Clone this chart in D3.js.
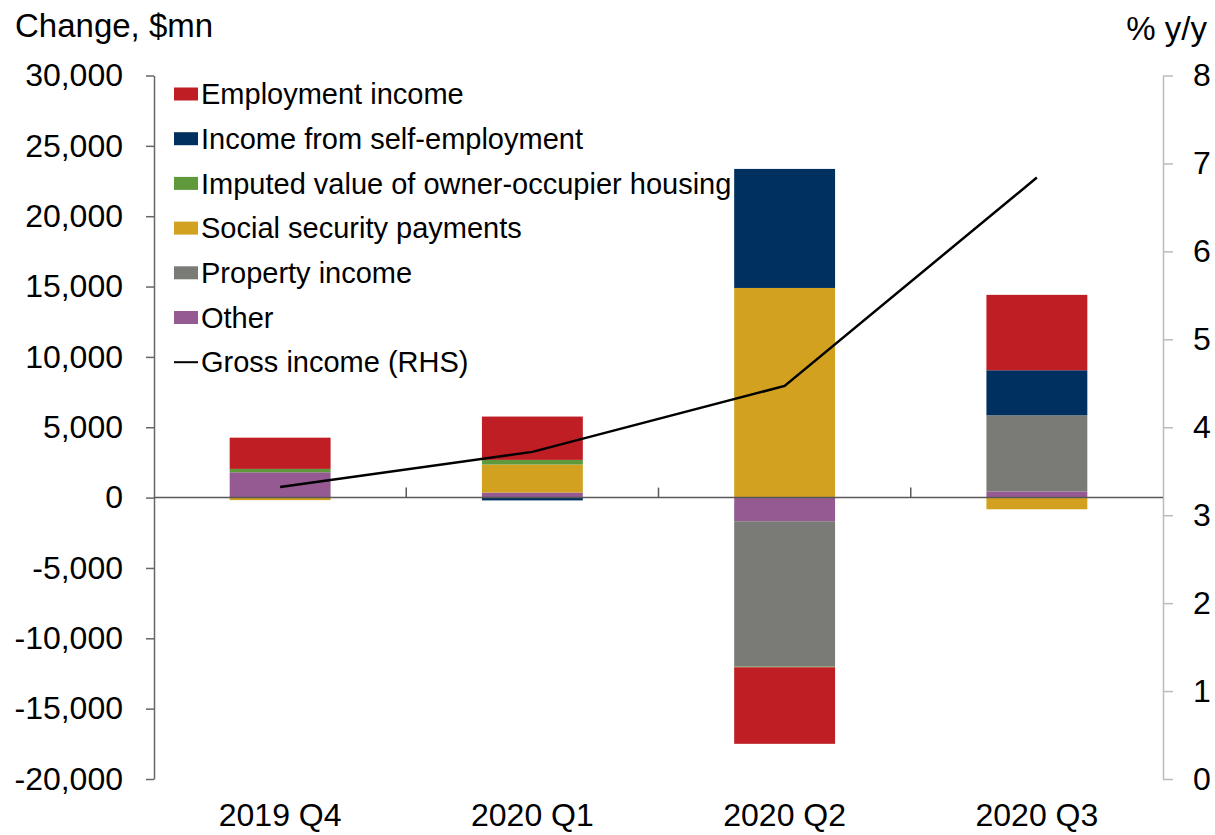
<!DOCTYPE html>
<html>
<head>
<meta charset="utf-8">
<script src="https://cdn.jsdelivr.net/npm/d3@7"></script>
<style>
  body { margin: 0; background: #fff; }
  svg text { font-family: "Liberation Sans", Arial, sans-serif; fill: #000; }
</style>
</head>
<body>
<div id="chart"></div>
<script>
// quarters on the x axis
const quarters = ['2019 Q4', '2020 Q1', '2020 Q2', '2020 Q3'];

// contributions to change in gross income, $mn
const employment = [2220, 3080, -5440, 5360];
const selfEmployment = [0, -200, 8460, 3200];
const imputedHousing = [240, 330, -50, 0];
const socialSecurity = [-180, 1990, 14900, -830];
const propertyIncome = [0, 0, -10330, 5420];
const other = [1800, 360, -1680, 430];

// gross income, % y/y (right axis)
const grossIncome = [3.32, 3.72, 4.47, 6.84];

const leftTicks = [-20000, -15000, -10000, -5000, 0, 5000, 10000, 15000, 20000, 25000, 30000];
const rightTicks = [0, 1, 2, 3, 4, 5, 6, 7, 8];

const series = [
  {key: 'Employment income', values: employment, color: '#be1e24'},
  {key: 'Income from self-employment', values: selfEmployment, color: '#00305f'},
  {key: 'Imputed value of owner-occupier housing', values: imputedHousing, color: '#5e9a3b'},
  {key: 'Social security payments', values: socialSecurity, color: '#d3a120'},
  {key: 'Property income', values: propertyIncome, color: '#7a7b76'},
  {key: 'Other', values: other, color: '#955a91'}
];
// stacking order from zero outwards (reverse of legend)
const stackKeys = series.map(s => s.key).reverse();

const width = 1215, height = 835;
const plotLeft = 154, plotRight = 1163, plotTop = 75.5, plotBottom = 779;

const svg = d3.select('#chart').append('svg')
  .attr('width', width)
  .attr('height', height);

const x = d3.scaleBand()
  .domain(quarters)
  .range([plotLeft, plotRight])
  .paddingInner(0.6)
  .paddingOuter(0.3);

const y = d3.scaleLinear()
  .domain([-20000, 30000])
  .range([plotBottom, plotTop]);

const y2 = d3.scaleLinear()
  .domain([0, 8])
  .range([plotBottom, plotTop]);

// table for d3.stack
const table = quarters.map((q, i) => {
  const row = {quarter: q};
  series.forEach(s => { row[s.key] = s.values[i]; });
  return row;
});

const stacked = d3.stack()
  .keys(stackKeys)
  .offset(d3.stackOffsetDiverging)(table);

const colorOf = d3.scaleOrdinal()
  .domain(series.map(s => s.key))
  .range(series.map(s => s.color));

svg.append('g')
  .selectAll('g')
  .data(stacked)
  .enter().append('g')
  .attr('fill', d => colorOf(d.key))
  .selectAll('rect')
  .data(d => d)
  .enter().append('rect')
  .attr('x', d => x(d.data.quarter))
  .attr('width', x.bandwidth())
  .attr('y', d => y(Math.max(d[0], d[1])))
  .attr('height', d => Math.abs(y(d[0]) - y(d[1])));

// left axis
const fmt = d => d3.format(',')(d).replace('\u2212', '-');
const leftAxis = svg.append('g')
  .attr('transform', `translate(${plotLeft},0)`)
  .call(d3.axisLeft(y).tickValues(leftTicks).tickFormat(fmt).tickSize(8).tickPadding(23).tickSizeOuter(0));
leftAxis.selectAll('line, path').attr('stroke', '#666').attr('stroke-width', 1.5);
leftAxis.selectAll('text').style('font-size', '32px').attr('fill', '#000');

// right axis
const rightAxis = svg.append('g')
  .attr('transform', `translate(${plotRight},0)`)
  .call(d3.axisRight(y2).tickValues(rightTicks).tickSize(10).tickPadding(20).tickSizeOuter(0));
rightAxis.selectAll('line, path').attr('stroke', '#bbb').attr('stroke-width', 1.5);
rightAxis.selectAll('text').style('font-size', '32px').attr('fill', '#000');

// zero line with category separators
const zeroAxis = svg.append('g')
  .attr('transform', `translate(0,${y(0)})`);
zeroAxis.append('line')
  .attr('x1', plotLeft).attr('x2', plotRight)
  .attr('stroke', '#595959').attr('stroke-width', 1.5);
zeroAxis.selectAll('line.sep')
  .data(quarters.slice(1))
  .enter().append('line')
  .attr('class', 'sep')
  .attr('x1', d => x(d) - x.step() * x.paddingInner() / 2)
  .attr('x2', d => x(d) - x.step() * x.paddingInner() / 2)
  .attr('y1', 0).attr('y2', -10)
  .attr('stroke', '#595959').attr('stroke-width', 1.5);

// category labels
svg.append('g')
  .selectAll('text')
  .data(quarters)
  .enter().append('text')
  .attr('x', d => x(d) + x.bandwidth() / 2)
  .attr('y', 826)
  .attr('text-anchor', 'middle')
  .style('font-size', '32px')
  .text(d => d);

// gross income line
const line = d3.line()
  .x((d, i) => x(quarters[i]) + x.bandwidth() / 2)
  .y(d => y2(d));
svg.append('path')
  .datum(grossIncome)
  .attr('fill', 'none')
  .attr('stroke', '#000')
  .attr('stroke-width', 2.5)
  .attr('d', line);

// axis titles
svg.append('text')
  .attr('x', 15).attr('y', 37)
  .style('font-size', '33px')
  .text('Change, $mn');
svg.append('text')
  .attr('x', 1207).attr('y', 40)
  .attr('text-anchor', 'end')
  .style('font-size', '33px')
  .text('% y/y');

// legend
const legendItems = series.map(s => ({key: s.key, color: s.color, type: 'rect'}))
  .concat([{key: 'Gross income (RHS)', color: '#000', type: 'line'}]);
const legend = svg.append('g')
  .selectAll('g')
  .data(legendItems)
  .enter().append('g')
  .attr('transform', (d, i) => `translate(174,${94 + i * 44.7})`);
legend.filter(d => d.type === 'rect').append('rect')
  .attr('x', 0).attr('y', -6.5)
  .attr('width', 24).attr('height', 13)
  .attr('fill', d => d.color);
legend.filter(d => d.type === 'line').append('line')
  .attr('x1', 0).attr('x2', 24)
  .attr('stroke', d => d.color).attr('stroke-width', 2);
legend.append('text')
  .attr('x', 27)
  .attr('dy', '0.35em')
  .style('font-size', '29px')
  .text(d => d.key);
</script>
</body>
</html>
